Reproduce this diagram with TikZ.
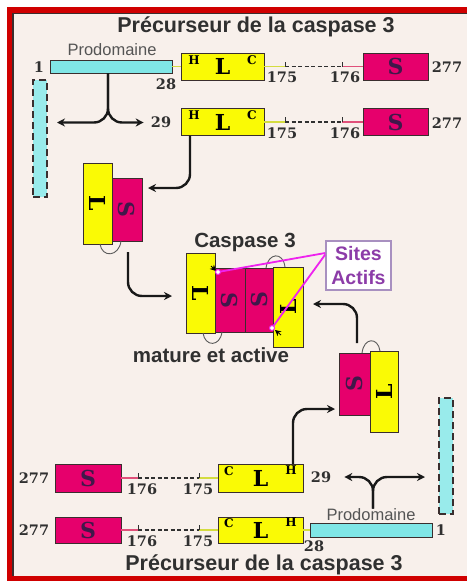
\documentclass[tikz,border=0pt]{standalone}
\usepackage{fontspec}
\setmainfont{Liberation Sans}
\newfontfamily\numfont{DejaVu Serif}
\usepackage{graphicx}
\usetikzlibrary{arrows.meta}

\definecolor{framered}{HTML}{D00000}
\definecolor{paper}{HTML}{F8F0EB}
\definecolor{lyellow}{HTML}{FAFA05}
\definecolor{spink}{HTML}{E6006C}
\definecolor{procyan}{HTML}{80E6E6}
\definecolor{boxline}{HTML}{3A2E2E}
\definecolor{inkgray}{HTML}{303030}
\definecolor{labelgray}{HTML}{555555}
\definecolor{sletter}{HTML}{40184A}
\definecolor{sitepurple}{HTML}{8C3CA8}
\definecolor{siteframe}{HTML}{A890C0}
\definecolor{sitemagenta}{HTML}{EE22EE}
\definecolor{linkyellow}{HTML}{D4DC40}
\definecolor{linkpink}{HTML}{E0507A}

\begin{document}
\begin{tikzpicture}[x=1pt,y=-1pt,
    seg/.style={draw=boxline,line width=1pt,inner sep=0pt,outer sep=0pt},
    lbox/.style={seg,fill=lyellow,font=\numfont\bfseries\fontsize{22}{22}\selectfont},
    sbox/.style={seg,fill=spink,text=sletter,font=\numfont\bfseries\fontsize{22}{22}\selectfont},
    probar/.style={seg,fill=procyan},
    dashbar/.style={seg,fill=procyan!80,line width=1.3pt,dash pattern=on 7pt off 4pt},
    num/.style={inner sep=0pt,text=inkgray,font=\numfont\bfseries\fontsize{14.5}{14.5}\selectfont},
    endmark/.style={inner sep=0pt,font=\numfont\bfseries\fontsize{12}{12}\selectfont},
    headline/.style={inner sep=0pt,text=inkgray,font=\bfseries\fontsize{21.5}{24}\selectfont},
    prolabel/.style={inner sep=0pt,text=labelgray,font=\fontsize{16.5}{16.5}\selectfont},
    captext/.style={inner sep=0pt,text=inkgray,font=\bfseries\fontsize{20.5}{22}\selectfont},
    sitebox/.style={draw=siteframe,line width=1.5pt,fill=white,text=sitepurple,align=center,
      minimum width=65,minimum height=49,inner sep=1pt,font=\bfseries\fontsize{19.5}{24}\selectfont},
    sitedot/.style={circle,draw=sitemagenta,fill=white,line width=1pt,inner sep=0pt,minimum size=5},
    siteline/.style={sitemagenta,line width=1.8pt},
    sitemark/.style={line width=0.8pt,-{Stealth[length=6pt,width=6pt]}},
    linky/.style={linkyellow,line width=1.6pt},
    linkp/.style={linkpink,line width=1.6pt},
    cutline/.style={inkgray,line width=1.8pt,dash pattern=on 4pt off 2.5pt},
    cutmark/.style={inkgray,line width=1pt},
    loopline/.style={inkgray!80,line width=0.9pt},
    flow/.style={black!90,line width=2.4pt,rounded corners=14pt,-{Stealth[length=8pt,width=8pt]}}
  ]
  \useasboundingbox (0,0) rectangle (467,581);
  % frame
  \fill[white] (0,0) rectangle (467,581);
  \fill[framered] (6.5,7) rectangle (467,581);
  \fill[paper] (13,13.5) rectangle (467,576);
  \draw[boxline,line width=1.2pt] (467,13.5) -- (13,13.5) -- (13,576);

  \node[headline] (ttop) at (256,27) {Précurseur de la caspase 3};
  \node[headline] (tbot) at (264,565) {Précurseur de la caspase 3};

  % precursor, upper rows
  \node[prolabel] (plab1) at (112,50) {Prodomaine};
  \node[probar,minimum width=122,minimum height=13] (pro1) at (111,66.5) {};
  \node[lbox,minimum width=83,minimum height=27] (L1) at (222.5,66.5) {L};
  \node[sbox,minimum width=65,minimum height=27] (S1) at (395.5,66.5) {S};
  \node[endmark] (h1) at (194,60) {H};
  \node[endmark] (c1) at (252,60) {C};
  \node[num] (n1a) at (39,67) {1};
  \node[num] (n28a) at (166,84) {28};
  \node[num] (n175a) at (282,77) {175};
  \node[num] (n176a) at (345,77) {176};
  \node[num] (n277a) at (447,67) {277};
  \coordinate (k175a) at (285,66.5);
  \coordinate (k176a) at (342,66.5);

  \node[lbox,minimum width=83,minimum height=27] (L2) at (222.5,122) {L};
  \node[sbox,minimum width=65,minimum height=27] (S2) at (395.5,122) {S};
  \node[endmark] (h2) at (194,115.5) {H};
  \node[endmark] (c2) at (252,115.5) {C};
  \node[num] (n29a) at (161,122.5) {29};
  \node[num] (n175b) at (282,133) {175};
  \node[num] (n176b) at (345,133) {176};
  \node[num] (n277b) at (447,123) {277};
  \coordinate (k175b) at (285,122);
  \coordinate (k176b) at (342,122);

  \draw[linky] (pro1) -- (L1);
  \draw[linky] (L1) -- (k175a);
  \draw[cutline] (k175a) -- (k176a);
  \draw[linkp] (k176a) -- (S1);
  \draw[cutmark] (k175a) -- ++(0,-5);
  \draw[cutmark] (k176a) -- ++(0,-5);
  \draw[linky] (L2) -- (k175b);
  \draw[cutline] (k175b) -- (k176b);
  \draw[linkp] (k176b) -- (S2);
  \draw[cutmark] (k175b) -- ++(0,-5);
  \draw[cutmark] (k176b) -- ++(0,-5);

  % precursor, lower rows
  \node[sbox,minimum width=66,minimum height=28] (S3) at (88,478) {S};
  \node[lbox,minimum width=85,minimum height=28] (L3) at (260.5,478) {L};
  \node[endmark] (c3) at (229,471) {C};
  \node[endmark] (h3) at (291,470) {H};
  \node[num] (n277c) at (34,478) {277};
  \node[num] (n176c) at (142,489) {176};
  \node[num] (n175c) at (198,489) {175};
  \node[num] (n29b) at (321,477) {29};
  \coordinate (k176c) at (138,478);
  \coordinate (k175c) at (199,478);

  \node[sbox,minimum width=66,minimum height=26] (S4) at (88,530) {S};
  \node[lbox,minimum width=85,minimum height=26] (L4) at (260.5,530) {L};
  \node[probar,minimum width=122,minimum height=14] (pro4) at (371,530) {};
  \node[prolabel] (plab4) at (371,515) {Prodomaine};
  \node[endmark] (c4) at (229,523) {C};
  \node[endmark] (h4) at (291,522) {H};
  \node[num] (n277d) at (34,530) {277};
  \node[num] (n176d) at (142,541) {176};
  \node[num] (n175d) at (198,541) {175};
  \node[num] (n28b) at (314,546) {28};
  \node[num] (n1b) at (441,530) {1};
  \coordinate (k176d) at (138,530);
  \coordinate (k175d) at (199,530);

  \draw[linkp] (S3) -- (k176c);
  \draw[cutline] (k176c) -- (k175c);
  \draw[linky] (k175c) -- (L3);
  \draw[cutmark] (k176c) -- ++(0,-5);
  \draw[cutmark] (k175c) -- ++(0,-5);
  \draw[linkp] (S4) -- (k176d);
  \draw[cutline] (k176d) -- (k175d);
  \draw[linky] (k175d) -- (L4);
  \draw[linky] (L4) -- (pro4);
  \draw[cutmark] (k176d) -- ++(0,-5);
  \draw[cutmark] (k175d) -- ++(0,-5);

  % released prodomains
  \node[dashbar,minimum width=14,minimum height=117] (dash1) at (40,138.5) {};
  \node[dashbar,minimum width=14,minimum height=116] (dash2) at (446,456) {};

  % folded chains and the mature enzyme
  \node[lbox,minimum width=29,minimum height=81] (pL1) at (97.5,203.5) {\rotatebox{-90}{L}};
  \node[sbox,minimum width=30,minimum height=63] (pS1) at (127,209.5) {\rotatebox{-90}{S}};
  \node[lbox,minimum width=29,minimum height=80] (cL1) at (200.5,293) {\rotatebox{-90}{L}};
  \node[sbox,minimum width=30,minimum height=64] (cS1) at (230,300) {\rotatebox{-90}{S}};
  \node[sbox,minimum width=28,minimum height=64] (cS2) at (259,300) {\rotatebox{90}{S}};
  \node[lbox,minimum width=30,minimum height=80] (cL2) at (288,307) {\rotatebox{90}{L}};
  \node[sbox,minimum width=31,minimum height=62] (pS2) at (354.5,384) {\rotatebox{90}{S}};
  \node[lbox,minimum width=28,minimum height=81] (pL2) at (384,391.5) {\rotatebox{90}{L}};

  \draw[loopline] ([xshift=2.5pt]pL1.south) .. controls +(2,14) and +(-2,16) .. ([xshift=-6pt]pS1.south);
  \draw[loopline] ([xshift=2.5pt]cL1.south) .. controls +(2,14) and +(-2,15) .. ([xshift=-8pt]cS1.south);
  \draw[loopline] ([xshift=7pt]cS2.north) .. controls +(2,-15) and +(-2,-16) .. ([xshift=-3pt]cL2.north);
  \draw[loopline] ([xshift=7.5pt]pS2.north) .. controls +(2,-16) and +(-2,-14) .. ([xshift=-4pt]pL2.north);

  \node[captext] (cap) at (245,242) {Caspase 3};
  \node[captext] (mat) at (211,355) {mature et active};
  \node[sitebox] (sites) at (358.5,265.5) {Sites\\Actifs};

  \coordinate (site1) at ([shift={(3,4)}]cS1.north west);
  \coordinate (site2) at ([shift={(-1,-4)}]cS2.south east);
  \draw[sitemark] ([shift={(-7,-6)}]site1) -- ([shift={(-2,-1)}]site1);
  \draw[sitemark] ([shift={(9,7)}]site2) -- ([shift={(3,2)}]site2);
  \draw[siteline] ([shift={(0,-12.5)}]sites.west) -- (site1);
  \draw[siteline] ([shift={(0,-11)}]sites.west) -- (site2);
  \node[sitedot] (dot1) at (site1) {};
  \node[sitedot] (dot2) at (site2) {};

  % maturation steps
  \draw[flow] ([xshift=-3pt]pro1.south) |- ([shift={(10,-16)}]dash1.east);
  \draw[flow,shorten >=7pt] ([xshift=-3pt]pro1.south) |- (n29a.west);
  \draw[flow] ([xshift=-32.5pt]L2.south) |- ([shift={(6,-21.5)}]pS1.east);
  \draw[flow] ([shift={(1,11)}]pS1.south) |- ([shift={(-14,3)}]cL1.west);
  \draw[flow] ([shift={(2.5,-10)}]pS2.north) |- ([shift={(10,-3)}]cL2.east);
  \draw[flow] ([xshift=32.5pt]L3.north) |- ([shift={(-4,25)}]pS2.west);
  \draw[flow,shorten >=13pt] ([xshift=2pt]plab4.north) |- (n29b.east);
  \draw[flow] ([xshift=2pt]plab4.north) |- ([shift={(-14,21)}]dash2.west);
\end{tikzpicture}
\end{document}
